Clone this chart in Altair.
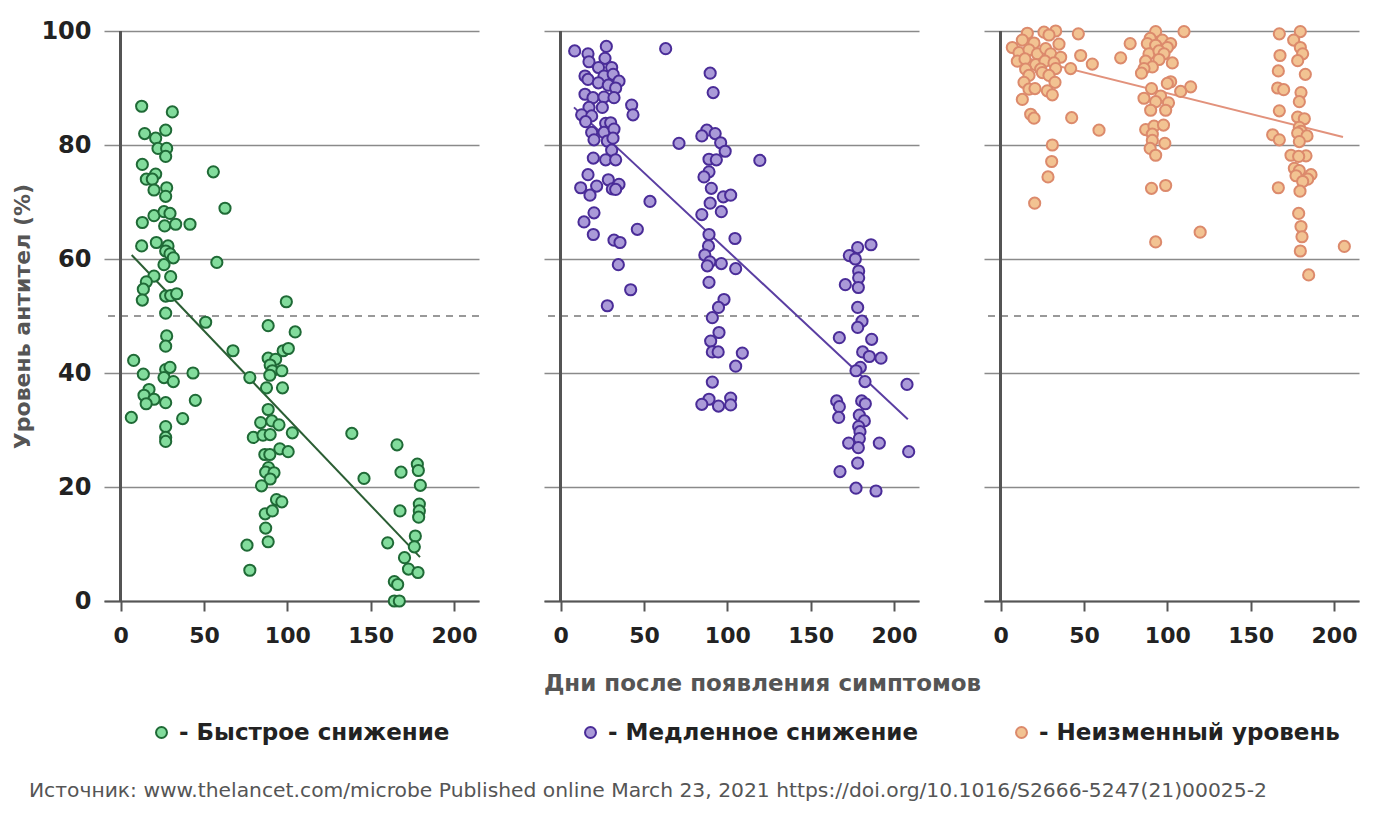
import altair as alt
import pandas as pd

# ---------------- data ----------------
fast_days = [12.6, 31, 14.4, 21, 27, 22.4, 27.6, 27, 13, 21, 15.4, 19, 20, 27.6, 27, 55.6, 62.6, 13, 20, 26,
             29.6, 26.4, 33, 41.6, 12.6, 21.4, 28.4, 27, 29.6, 31.6, 26, 57.7, 20, 30, 15.4, 13.6, 13, 27, 30, 33.6,
             27, 51, 88.5, 99.4, 104.7, 27.6, 27, 7.8, 13.6, 27, 29.6, 26, 31.6, 43.4, 17, 14, 20, 15.3, 27, 44.8,
             6.4, 37.2, 27, 27, 27, 67.4, 77.5, 88.5, 93, 89.7, 97.5, 100.6, 91, 96.7, 89.5, 87.5, 97.1, 88.5, 84, 90.7,
             95, 103, 79.6, 85.4, 89.7, 138.7, 95.5, 100.5, 86.5, 89.5, 88.7, 87, 92, 89.7, 146, 84.5, 93.5, 96.7, 86.7, 91,
             87, 88.5, 75.8, 77.5, 165.8, 178, 178.6, 168.2, 179.8, 179.2, 179.2, 178.8, 167.6, 176.8, 160.2, 176.2, 170.3, 172.7, 178.4, 164.2,
             166.2, 164.2, 167.2]
fast_level = [86.8, 85.8, 82, 81.2, 82.6, 79.4, 79.4, 78, 76.6, 74.9, 74, 74, 72.1, 72.5, 71, 75.3, 68.9, 66.4, 67.6, 68.3,
              68, 65.8, 66.1, 66.1, 62.3, 62.9, 62.3, 61.4, 60.9, 60.2, 59, 59.4, 57, 56.9, 56, 54.7, 52.8, 53.5, 53.6, 53.9,
              50.5, 48.9, 48.3, 52.5, 47.2, 46.5, 44.7, 42.2, 39.8, 40.6, 41, 39.2, 38.5, 40, 37.1, 36.1, 35.4, 34.6, 34.8, 35.2,
              32.2, 32, 30.6, 28.7, 28, 43.9, 39.2, 42.6, 42.4, 41.4, 43.9, 44.3, 40.4, 40.4, 39.6, 37.4, 37.4, 33.6, 31.3, 31.6,
              30.9, 29.5, 28.7, 29.1, 29.2, 29.4, 26.7, 26.2, 25.7, 25.7, 23.4, 22.6, 22.5, 21.4, 21.5, 20.2, 17.8, 17.4, 15.3, 15.8,
              12.8, 10.4, 9.8, 5.4, 27.4, 24, 22.9, 22.6, 20.3, 17, 15.8, 14.7, 15.8, 11.4, 10.2, 9.5, 7.6, 5.6, 5, 3.4,
              2.9, 0, 0]

slow_days = [8.4, 27.4, 63, 16.4, 26.6, 17, 22.7, 30.6, 14.6, 16.4, 26, 31.5, 22.6, 28.6, 35, 33, 14.6, 19.4, 26, 32,
             25, 17, 42.6, 43.4, 12.6, 18.6, 15, 27, 30, 18.6, 26, 32, 20, 28, 31.4, 71, 30.6, 19.6, 27, 33,
             16.4, 28.6, 12, 21.6, 17.6, 31, 35, 33, 53.6, 20, 14, 46, 19.6, 32, 35.6, 34.6, 42, 28,
             89.7, 91.5, 87.7, 84.7, 92.7, 96, 98.7, 89, 93.4, 89, 86, 90.4, 97.6, 102, 89.7, 96.4, 84.7, 119.5, 89, 104.6,
             88.7, 86.5, 89.5, 88, 96.4, 105, 89, 98, 94.7, 91, 95, 90, 91, 94.5, 109, 105, 91, 89, 84.7, 94.7,
             102, 102,
             178.2, 186.2, 173.2, 176.8, 178.8, 178.8, 170.8, 178.6, 178.2, 180.8, 178.2, 167.2, 186.6, 181.2, 185.2, 192.2, 179.8, 177.2, 182.6, 207.8,
             165.6, 167.2, 180.6, 182.8, 166.8, 179.2, 182.2, 178.8, 179.6, 179.2, 172.8, 178.6, 191.2, 208.8, 178.2, 167.6, 177.2, 189.2]
slow_level = [96.5, 97.3, 96.9, 96, 95.2, 94.6, 93.6, 93.6, 92.1, 91.5, 92.1, 92.4, 90.9, 90.5, 91.2, 90, 88.9, 88.3, 88.4, 88.3,
              86.6, 86.6, 87, 85.3, 85.3, 85.1, 84.1, 83.8, 83.9, 82.2, 82.2, 82.8, 80.9, 80.7, 81.2, 80.3, 79.1, 77.7, 77.4, 77.4,
              74.8, 73.9, 72.5, 72.8, 71.2, 72.3, 73.1, 72.2, 70.1, 68.1, 66.5, 65.2, 64.3, 63.3, 62.9, 59, 54.6, 51.8,
              92.6, 89.2, 82.6, 81.6, 82, 80.4, 78.9, 77.5, 77.4, 75.3, 74.4, 72.4, 70.9, 71.2, 69.8, 68.3, 67.8, 77.3, 64.3, 63.6,
              62.3, 60.7, 59.5, 58.8, 59.2, 58.3, 55.9, 52.9, 51.5, 49.7, 47.1, 45.6, 43.7, 43.7, 43.5, 41.2, 38.4, 35.4, 34.5, 34.2,
              35.6, 34.4,
              62, 62.5, 60.6, 60, 57.9, 56.7, 55.5, 55, 51.5, 49.1, 48, 46.2, 45.9, 43.7, 42.9, 42.6, 41, 40.4, 38.5, 38,
              35.1, 34.1, 35.1, 34.6, 32.2, 32.6, 31.6, 30.6, 29.7, 28.5, 27.7, 26.9, 27.7, 26.2, 24.2, 22.7, 19.8, 19.3]

stable_days = [7, 16, 26, 33, 29, 13, 20, 35, 46.6, 48, 55, 11, 17, 22, 27, 30, 36, 10, 14.6, 21,
               26.6, 32, 15, 24, 33, 42, 17, 25, 29, 32.6, 14, 17, 20.6, 28, 31, 13, 18, 20, 42.6, 59,
               31, 30.6, 28.4, 20.4,
               77.7, 72, 110, 93, 89.7, 88, 97, 102, 93, 100, 89, 95, 98, 87, 95, 103, 91, 86, 84.5, 102,
               100, 114, 108, 90.5, 96, 86, 93, 100.7, 90, 99, 87, 92, 97.7, 91, 91, 98.5, 89.7, 93, 90.5, 99,
               119.7, 93,
               167.2, 179.8, 175.8, 179.8, 181.2, 178.2, 167.6, 166.6, 182.8, 166.2, 169.8, 180.2, 179.2, 167.2, 178.2, 182.2, 179.2, 180.2, 178.2, 183.8,
               163.2, 167.2, 179.2, 174.2, 183.2, 178.8, 176.2, 179.2, 177.2, 186.2, 184.2, 181.2, 166.6, 179.6, 178.8, 180.2, 180.8, 179.8, 206.2, 184.8]
stable_level = [97.1, 99.6, 99.8, 100, 99.3, 98.4, 97.9, 97.7, 99.5, 95.7, 94.2, 96.2, 96.7, 96, 96.9, 96, 95.4, 94.7, 95.1, 94.1,
                94.7, 94.4, 93.3, 93.3, 93.4, 93.4, 92.2, 92.7, 92.2, 91, 91, 89.8, 89.9, 89.5, 88.8, 88, 85.4, 84.7, 84.8, 82.6,
                80, 77.1, 74.4, 69.8,
                97.8, 95.3, 99.9, 99.9, 98.7, 97.8, 98.4, 97.8, 97.5, 97.1, 96, 96.5, 96, 94.7, 95, 94.4, 93.7, 93.4, 92.6, 91.1,
                90.8, 90.2, 89.4, 89.9, 88.6, 88.2, 87.6, 87.4, 86.1, 86.1, 82.7, 83.3, 83.5, 81.9, 80.8, 80.3, 79.4, 78.2, 72.4, 72.9,
                64.7, 63,
                99.5, 99.9, 98.4, 97.1, 96, 94.8, 95.7, 93, 92.4, 90, 89.7, 89.2, 87.6, 86, 84.9, 84.6, 83.1, 82.4, 82.1, 81.6,
                81.8, 80.9, 80.6, 78.2, 78.1, 78, 75.9, 75.5, 74.6, 74.8, 74, 73.6, 72.5, 71.9, 68, 65.7, 63.9, 61.4, 62.2, 57.2]

# fitted trend lines (end points)
fast_fit_days, fast_fit_level = [6.6, 179.6], [60.7, 7.7]
slow_fit_days, slow_fit_level = [8, 208.3], [86.6, 31.9]
stable_fit_days, stable_fit_level = [8, 205.4], [95.8, 81.4]

group_names = ["Быстрое снижение", "Медленное снижение", "Неизменный уровень"]
fill_colors = ["#82dc9c", "#aa9ad8", "#f2c392"]
stroke_colors = ["#1f6a36", "#4a2c98", "#dc8a6c"]
line_colors = ["#2b5e34", "#5a3ea2", "#e2927c"]

x_ticks = [0, 50, 100, 150, 200]
y_ticks = [0, 20, 40, 60, 80, 100]
ref_level = 50

x_title = "Дни после появления симптомов"
y_title = "Уровень антител (%)"
source = "Источник: www.thelancet.com/microbe Published online March 23, 2021 https://doi.org/10.1016/S2666-5247(21)00025-2"

FONT = "DejaVu Sans"
W, H = 375, 570

series = [
    (fast_days, fast_level, fast_fit_days, fast_fit_level),
    (slow_days, slow_level, slow_fit_days, slow_fit_level),
    (stable_days, stable_level, stable_fit_days, stable_fit_level),
]
legend_x = [46, 35, 26]


def panel(i):
    d, l, fd, fl = series[i]
    pts = pd.DataFrame({"days": d, "level": l, "group": group_names[i]})
    fit = pd.DataFrame({"days": fd, "level": fl})

    xscale = alt.Scale(domain=[-10, 215], nice=False, zero=False)
    yscale = alt.Scale(domain=[0, 100], nice=False)

    xaxis = alt.Axis(values=x_ticks, grid=False, domainColor="#555", domainWidth=2,
                     tickColor="#555", tickWidth=2, tickSize=10,
                     labelFontSize=22, labelFont=FONT, labelFontWeight="bold", labelColor="#222",
                     labelPadding=14,
                     title=x_title if i == 1 else None,
                     titleFont=FONT, titleFontSize=23, titleFontWeight="bold", titleColor="#555",
                     titlePadding=26, titleX=218)
    yaxis = alt.Axis(values=y_ticks, grid=True, gridColor="#8a8a8a", gridWidth=1.5,
                     domain=False, ticks=False, labels=(i == 0),
                     labelFontSize=24, labelFont=FONT, labelFontWeight="bold", labelColor="#222",
                     labelPadding=13,
                     title=y_title if i == 0 else None,
                     titleFont=FONT, titleFontSize=22, titleFontWeight="bold", titleColor="#555",
                     titlePadding=6)

    base_x = alt.X("days:Q", scale=xscale, axis=xaxis)
    base_y = alt.Y("level:Q", scale=yscale, axis=yaxis)

    dashed = alt.Chart(pts).mark_rule(color="#999", strokeWidth=1.5, strokeDash=[7, 6]).encode(
        y=alt.datum(ref_level, scale=yscale))
    vline = alt.Chart(pts).mark_rule(color="#555", strokeWidth=2).encode(
        x=alt.datum(0, scale=xscale))
    line = alt.Chart(fit).mark_line(color=line_colors[i], strokeWidth=2).encode(x=base_x, y=base_y)
    points = alt.Chart(pts).mark_point(shape="circle", filled=True, size=125, opacity=1,
                                       stroke=stroke_colors[i], strokeWidth=2).encode(
        x=base_x, y=base_y,
        fill=alt.Fill("group:N",
                      scale=alt.Scale(domain=[group_names[i]], range=[fill_colors[i]]),
                      legend=alt.Legend(title=None, orient="none", legendX=legend_x[i], legendY=690,
                                        symbolType="circle", symbolSize=120,
                                        symbolStrokeColor=stroke_colors[i], symbolStrokeWidth=2,
                                        symbolFillColor=fill_colors[i],
                                        labelExpr="'- ' + datum.label",
                                        labelFont=FONT, labelFontSize=23, labelFontWeight="bold",
                                        labelColor="#222", labelOffset=6, labelLimit=500)))
    return alt.layer(dashed, vline, line, points).properties(width=W, height=H)


chart = alt.hconcat(panel(0), panel(1), panel(2), spacing=65).resolve_scale(
    fill="independent").resolve_legend(fill="independent").properties(
    bounds="flush",
    title=alt.TitleParams(text=source, orient="bottom", anchor="start", font=FONT, fontSize=20.3,
                          fontWeight="normal", color="#555", offset=36, dx=17),
    padding={"left": 3, "top": 11, "right": 5, "bottom": 5},
    background="white",
).configure_view(stroke=None)

chart.save("out.html", embed_options={"renderer": "svg", "actions": False})
